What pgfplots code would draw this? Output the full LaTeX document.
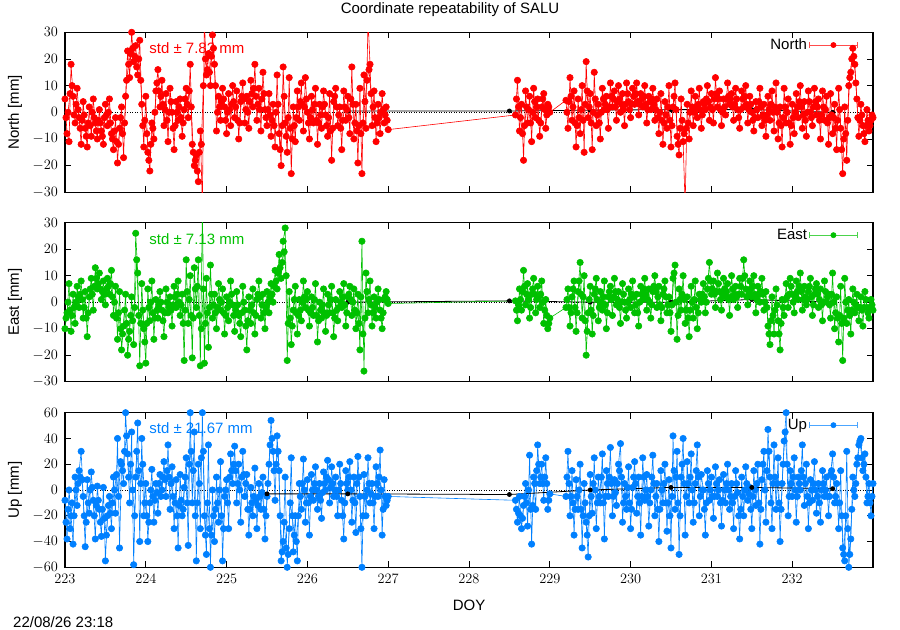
\documentclass[border=0pt]{standalone}
\usepackage{fontspec}
\setmainfont{Liberation Sans}
\usepackage{pgfplots}
\pgfplotsset{compat=1.18}
\definecolor{gpred}{RGB}{255,0,0}
\definecolor{gpgreen}{RGB}{0,192,0}
\definecolor{gpblue}{RGB}{0,128,255}

% each component: epochs on the quarter-hour grid (a) and the ones between (b)
\pgfplotstableread{
x y
223.000 5
223.025 -8
223.050 -11
223.075 18
223.100 6
223.125 -4
223.150 9
223.175 -2
223.200 -12
223.225 4
223.250 -6
223.275 -13
223.300 2
223.325 -9
223.350 5
223.375 -4
223.400 -10
223.425 1
223.450 -7
223.475 -12
223.500 3
223.525 -5
223.550 5
223.575 -8
223.600 -14
223.625 -2
223.650 -19
223.675 -6
223.700 2
223.725 -17
223.750 6
223.775 23
223.800 13
223.825 30
223.850 19
223.875 25
223.900 14
223.925 27
223.950 3
223.975 -13
224.000 6
224.025 -15
224.050 -22
224.075 -4
224.100 -10
224.125 8
224.150 16
224.175 2
224.200 12
224.225 -5
224.250 7
224.275 -11
224.300 9
224.325 0
224.350 -14
224.375 4
224.400 -3
224.425 5
224.450 -9
224.475 1
224.500 9
224.525 -2
224.550 18
224.575 -12
224.600 -20
224.625 -16
224.650 -26
224.675 -7
224.700 -35
224.725 35
224.750 14
224.775 22
224.800 10
224.825 29
224.850 18
224.875 -7
224.900 6
224.925 -3
224.950 9
224.975 2
225.000 -8
225.025 7
225.050 -5
225.075 10
225.100 -2
225.125 8
225.150 -10
225.175 4
225.200 11
225.225 -4
225.250 6
225.275 -6
225.300 12
225.325 2
225.350 18
225.375 -3
225.400 9
225.425 -7
225.450 15
225.475 1
225.500 -5
225.525 7
225.550 -9
225.575 3
225.600 -13
225.625 14
225.650 -8
225.675 -20
225.700 17
225.725 -4
225.750 -15
225.775 13
225.800 -23
225.825 2
225.850 -11
225.875 8
225.900 -3
225.925 11
225.950 -7
225.975 13
226.000 0
226.025 -10
226.050 6
226.075 -4
226.100 9
226.125 -12
226.150 3
226.175 -6
226.200 8
226.225 -1
226.250 -9
226.275 7
226.300 -18
226.325 4
226.350 9
226.375 -5
226.400 2
226.425 -14
226.450 8
226.475 -3
226.500 6
226.525 -8
226.550 17
226.575 -10
226.600 3
226.625 -19
226.650 9
226.675 -23
226.700 14
226.725 -6
226.750 35
226.775 18
226.800 -5
226.825 8
226.850 -11
226.875 3
226.900 -8
226.925 7
226.950 -4
226.975 2
227.000 -6.5
228.575 -1
228.600 12
228.625 -7
228.650 3
228.675 -18
228.700 8
228.725 -4
228.750 6
228.775 -11
228.800 9
228.825 -2
228.850 5
228.875 -9
228.900 2
228.925 7
228.950 -6
228.975 3
229.000 0
229.200 4.5
229.225 -6
229.250 13
229.275 -3
229.300 8
229.325 -13
229.350 5
229.375 -8
229.400 10
229.425 -15
229.450 19
229.475 -2
229.500 7
229.525 -14
229.550 15
229.575 -5
229.600 3
229.625 -10
229.650 9
229.675 1
229.700 6
229.725 -6
229.750 11
229.775 2
229.800 8
229.825 -3
229.850 10
229.875 0
229.900 7
229.925 -5
229.950 11
229.975 4
230.000 -2
230.025 9
230.050 3
230.075 11
230.100 -1
230.125 7
230.150 2
230.175 10
230.200 -4
230.225 6
230.250 1
230.275 9
230.300 -3
230.325 5
230.350 -8
230.375 7
230.400 -12
230.425 4
230.450 -6
230.475 10
230.500 -13
230.525 2
230.550 11
230.575 -9
230.600 -16
230.625 5
230.650 -11
230.675 -35
230.700 3
230.725 -10
230.750 8
230.775 -5
230.800 6
230.825 -2
230.850 9
230.875 -6
230.900 4
230.925 1
230.950 10
230.975 -3
231.000 7
231.025 -4
231.050 13
231.075 2
231.100 8
231.125 -5
231.150 5
231.175 -1
231.200 11
231.225 3
231.250 7
231.275 -3
231.300 9
231.325 1
231.350 -6
231.375 8
231.400 2
231.425 10
231.450 -4
231.475 6
231.500 0
231.525 -7
231.550 4
231.575 -2
231.600 9
231.625 -5
231.650 3
231.675 -9
231.700 6
231.725 -3
231.750 8
231.775 -7
231.800 11
231.825 -10
231.850 2
231.875 -13
231.900 9
231.925 -4
231.950 5
231.975 -12
232.000 3
232.025 -8
232.050 7
232.075 -2
232.100 10
232.125 -6
232.150 4
232.175 -9
232.200 8
232.225 0
232.250 -5
232.275 9
232.300 -1
232.325 5
232.350 -10
232.375 8
232.400 -3
232.425 6
232.450 -12
232.475 7
232.500 -8
232.525 3
232.550 -14
232.575 9
232.600 -6
232.625 -23
232.650 2
232.675 -18
232.700 10
232.725 15
232.750 24
232.775 18
232.800 5
232.825 -9
232.850 3
232.875 -5
232.900 -11
232.925 1
232.950 -7
232.975 -3
233.000 -2
}\northa

\pgfplotstableread{
x y
223.0125 -2
223.0375 0
223.0625 7
223.0875 10
223.1125 -1
223.1375 3
223.1625 1
223.1875 -6
223.2125 -3
223.2375 -1
223.2625 -9
223.2875 -4
223.3125 -5
223.3375 0
223.3625 -2
223.3875 -7
223.4125 -3
223.4375 -4
223.4625 -9
223.4875 -2
223.5125 -1
223.5375 0
223.5625 -4
223.5875 -10
223.6125 -7
223.6375 -11
223.6625 -12
223.6875 -2
223.7125 -8
223.7375 -4
223.7625 12
223.7875 18
223.8125 22
223.8375 24
223.8625 21
223.8875 17
223.9125 20
223.9375 12
223.9625 -5
223.9875 -3
224.0125 -8
224.0375 -18
224.0625 -12
224.0875 -6
224.1125 0
224.1375 11
224.1625 8
224.1875 6
224.2125 3
224.2375 1
224.2625 -3
224.2875 0
224.3125 4
224.3375 -6
224.3625 -5
224.3875 0
224.4125 2
224.4375 -2
224.4625 -4
224.4875 5
224.5125 3
224.5375 8
224.5625 2
224.5875 -15
224.6125 -18
224.6375 -22
224.6625 -15
224.6875 -12
224.7125 10
224.7375 20
224.7625 16
224.7875 15
224.8125 21
224.8375 24
224.8625 10
224.8875 0
224.9125 2
224.9375 4
224.9625 5
224.9875 -3
225.0125 0
225.0375 1
225.0625 3
225.0875 4
225.1125 2
225.1375 -3
225.1625 -4
225.1875 6
225.2125 5
225.2375 1
225.2625 0
225.2875 4
225.3125 7
225.3375 9
225.3625 6
225.3875 3
225.4125 1
225.4375 5
225.4625 7
225.4875 -2
225.5125 1
225.5375 -1
225.5625 -3
225.5875 -5
225.6125 0
225.6375 3
225.6625 -14
225.6875 -5
225.7125 6
225.7375 -9
225.7625 -2
225.7875 -6
225.8125 -10
225.8375 -5
225.8625 -2
225.8875 2
225.9125 4
225.9375 3
225.9625 2
225.9875 5
226.0125 -4
226.0375 -2
226.0625 1
226.0875 3
226.1125 -3
226.1375 -4
226.1625 -1
226.1875 2
226.2125 3
226.2375 -5
226.2625 -2
226.2875 -7
226.3125 -6
226.3375 6
226.3625 2
226.3875 -1
226.4125 -6
226.4375 -3
226.4625 2
226.4875 1
226.5125 -2
226.5375 5
226.5625 3
226.5875 -4
226.6125 -7
226.6375 -5
226.6625 -8
226.6875 -4
226.7125 4
226.7375 12
226.7625 16
226.7875 7
226.8125 2
226.8375 -2
226.8625 -4
226.8875 -2
226.9125 0
226.9375 1
226.9625 -1
226.9875 -3
228.0000 nan
228.5875 5
228.6125 2
228.6375 -2
228.6625 -8
228.6875 -5
228.7125 2
228.7375 1
228.7625 -4
228.7875 0
228.8125 4
228.8375 2
228.8625 -3
228.8875 -4
228.9125 5
228.9375 1
228.9625 -1
228.9875 2
229.1000 nan
229.2125 0
229.2375 4
229.2625 6
229.2875 2
229.3125 -4
229.3375 -5
229.3625 -2
229.3875 1
229.4125 -3
229.4375 3
229.4625 8
229.4875 2
229.5125 -4
229.5375 0
229.5625 5
229.5875 -1
229.6125 -4
229.6375 0
229.6625 5
229.6875 3
229.7125 1
229.7375 2
229.7625 6
229.7875 5
229.8125 2
229.8375 4
229.8625 5
229.8875 3
229.9125 1
229.9375 3
229.9625 7
229.9875 1
230.0125 3
230.0375 6
230.0625 7
230.0875 4
230.1125 3
230.1375 5
230.1625 6
230.1875 3
230.2125 1
230.2375 4
230.2625 5
230.2875 3
230.3125 1
230.3375 -2
230.3625 0
230.3875 -3
230.4125 -4
230.4375 -1
230.4625 2
230.4875 -3
230.5125 -5
230.5375 6
230.5625 1
230.5875 -12
230.6125 -6
230.6375 -3
230.6625 -8
230.6875 -6
230.7125 -4
230.7375 0
230.7625 2
230.7875 0
230.8125 2
230.8375 3
230.8625 1
230.8875 -1
230.9125 3
230.9375 5
230.9625 4
230.9875 2
231.0125 1
231.0375 5
231.0625 7
231.0875 5
231.1125 1
231.1375 0
231.1625 2
231.1875 5
231.2125 6
231.2375 5
231.2625 2
231.2875 3
231.3125 5
231.3375 -2
231.3625 1
231.3875 5
231.4125 6
231.4375 3
231.4625 1
231.4875 3
231.5125 -3
231.5375 -2
231.5625 1
231.5875 4
231.6125 2
231.6375 -1
231.6625 -3
231.6875 -1
231.7125 1
231.7375 3
231.7625 0
231.7875 2
231.8125 0
231.8375 -4
231.8625 -5
231.8875 -2
231.9125 2
231.9375 0
231.9625 -4
231.9875 -5
232.0125 -2
232.0375 0
232.0625 2
232.0875 4
232.1125 2
232.1375 -1
232.1625 -3
232.1875 0
232.2125 4
232.2375 -2
232.2625 2
232.2875 4
232.3125 2
232.3375 -3
232.3625 -1
232.3875 2
232.4125 1
232.4375 -4
232.4625 -2
232.4875 -1
232.5125 -2
232.5375 -6
232.5625 -3
232.5875 1
232.6125 -14
232.6375 -10
232.6625 -8
232.6875 -3
232.7125 13
232.7375 20
232.7625 21
232.7875 11
232.8125 -2
232.8375 -3
232.8625 -1
232.8875 -8
232.9125 -5
232.9375 -3
232.9625 -5
232.9875 -1
}\northb

\pgfplotstableread{
x y
223.000 -10
223.025 -4
223.050 7
223.075 -11
223.100 3
223.125 -8
223.150 6
223.175 -2
223.200 8
223.225 -6
223.250 4
223.275 -13
223.300 2
223.325 9
223.350 -3
223.375 13
223.400 5
223.425 11
223.450 1
223.475 8
223.500 -1
223.525 9
223.550 3
223.575 12
223.600 -5
223.625 6
223.650 -14
223.675 4
223.700 -18
223.725 -9
223.750 3
223.775 -20
223.800 -11
223.825 2
223.850 -16
223.875 26
223.900 11
223.925 -24
223.950 7
223.975 -10
224.000 -23
224.025 5
224.050 -7
224.075 8
224.100 -14
224.125 1
224.150 -6
224.175 4
224.200 -3
224.225 -13
224.250 5
224.275 -4
224.300 2
224.325 -9
224.350 6
224.375 -2
224.400 8
224.425 -5
224.450 3
224.475 -22
224.500 16
224.525 -8
224.550 10
224.575 -21
224.600 13
224.625 -2
224.650 16
224.675 -24
224.700 35
224.725 -23
224.750 9
224.775 -17
224.800 14
224.825 -6
224.850 3
224.875 -10
224.900 7
224.925 -3
224.950 5
224.975 -12
225.000 2
225.025 -7
225.050 8
225.075 -1
225.100 -11
225.125 4
225.150 -5
225.175 -13
225.200 6
225.225 -3
225.250 -18
225.275 2
225.300 -8
225.325 5
225.350 -12
225.375 1
225.400 8
225.425 -6
225.450 3
225.475 -10
225.500 4
225.525 -4
225.550 7
225.575 0
225.600 12
225.625 5
225.650 18
225.675 9
225.700 23
225.725 28
225.750 -22
225.775 4
225.800 -16
225.825 -3
225.850 6
225.875 -12
225.900 1
225.925 -7
225.950 8
225.975 -2
226.000 4
226.025 -9
226.050 2
226.075 -5
226.100 7
226.125 -15
226.150 0
226.175 -6
226.200 5
226.225 -11
226.250 3
226.275 -4
226.300 6
226.325 -13
226.350 1
226.375 -7
226.400 4
226.425 -2
226.450 7
226.475 -9
226.500 2
226.525 6
226.550 -5
226.575 5
226.600 -10
226.625 3
226.650 -18
226.675 23
226.700 -26
226.725 11
226.750 -4
226.775 8
226.800 -9
226.825 2
226.850 -6
226.875 5
226.900 -3
226.925 -10
226.950 1
226.975 4
227.000 -0.5
228.575 0.5
228.600 -7
228.625 5
228.650 -3
228.675 12
228.700 -1
228.725 7
228.750 -6
228.775 3
228.800 9
228.825 -4
228.850 6
228.875 -2
228.900 8
228.925 -8
228.950 1
228.975 -10
229.000 -6
229.200 -2
229.225 5
229.250 -9
229.275 2
229.300 8
229.325 -11
229.350 4
229.375 15
229.400 -6
229.425 10
229.450 -20
229.475 -4
229.500 6
229.525 -12
229.550 3
229.575 9
229.600 -7
229.625 4
229.650 -3
229.675 8
229.700 -10
229.725 2
229.750 6
229.775 -5
229.800 9
229.825 -1
229.850 4
229.875 -8
229.900 7
229.925 0
229.950 -6
229.975 5
230.000 -2
230.025 8
230.050 -4
230.075 3
230.100 -9
230.125 6
230.150 1
230.175 9
230.200 -3
230.225 5
230.250 -6
230.275 4
230.300 10
230.325 -2
230.350 6
230.375 -7
230.400 3
230.425 8
230.450 -4
230.475 2
230.500 -11
230.525 9
230.550 14
230.575 -14
230.600 5
230.625 -3
230.650 10
230.675 -8
230.700 2
230.725 -13
230.750 6
230.775 -6
230.800 8
230.825 -10
230.850 3
230.875 0
230.900 7
230.925 -4
230.950 5
230.975 15
231.000 3
231.025 8
231.050 -2
231.075 11
231.100 4
231.125 -3
231.150 9
231.175 2
231.200 7
231.225 -5
231.250 10
231.275 1
231.300 6
231.325 -2
231.350 9
231.375 3
231.400 16
231.425 5
231.450 -1
231.475 8
231.500 2
231.525 10
231.550 -4
231.575 6
231.600 0
231.625 9
231.650 -3
231.675 4
231.700 -9
231.725 -16
231.750 2
231.775 -12
231.800 5
231.825 -7
231.850 -18
231.875 1
231.900 -5
231.925 7
231.950 -2
231.975 9
232.000 3
232.025 -4
232.050 8
232.075 1
232.100 11
232.125 -3
232.150 6
232.175 -1
232.200 4
232.225 9
232.250 -5
232.275 3
232.300 7
232.325 -2
232.350 5
232.375 -7
232.400 8
232.425 0
232.450 3
232.475 -6
232.500 11
232.525 -10
232.550 2
232.575 -15
232.600 6
232.625 -22
232.650 9
232.675 -8
232.700 1
232.725 -12
232.750 5
232.775 -4
232.800 3
232.825 -7
232.850 2
232.875 -9
232.900 4
232.925 -2
232.950 -6
232.975 1
233.000 -3
}\easta

\pgfplotstableread{
x y
223.0125 -6
223.0375 0
223.0625 -3
223.0875 -5
223.1125 -2
223.1375 0
223.1625 2
223.1875 3
223.2125 1
223.2375 -2
223.2625 -6
223.2875 -4
223.3125 5
223.3375 3
223.3625 6
223.3875 9
223.4125 7
223.4375 5
223.4625 4
223.4875 3
223.5125 5
223.5375 6
223.5625 7
223.5875 2
223.6125 0
223.6375 -6
223.6625 -4
223.6875 -10
223.7125 -12
223.7375 -3
223.7625 -8
223.7875 -14
223.8125 -5
223.8375 -7
223.8625 -2
223.8875 16
223.9125 -5
223.9375 -8
223.9625 -3
223.9875 -15
224.0125 -8
224.0375 -2
224.0625 0
224.0875 -4
224.1125 -6
224.1375 -3
224.1625 -1
224.1875 0
224.2125 -7
224.2375 -4
224.2625 0
224.2875 -2
224.3125 -3
224.3375 -1
224.3625 2
224.3875 3
224.4125 0
224.4375 -1
224.4625 -8
224.4875 -3
224.5125 4
224.5375 1
224.5625 -5
224.5875 -6
224.6125 5
224.6375 6
224.6625 -5
224.6875 -10
224.7125 5
224.7375 -8
224.7625 -4
224.7875 -2
224.8125 3
224.8375 -1
224.8625 -4
224.8875 -2
224.9125 1
224.9375 0
224.9625 -4
224.9875 -5
225.0125 -2
225.0375 0
225.0625 3
225.0875 -5
225.1125 -3
225.1375 -1
225.1625 -8
225.1875 -4
225.2125 0
225.2375 -9
225.2625 -7
225.2875 -3
225.3125 -1
225.3375 -4
225.3625 -5
225.3875 3
225.4125 2
225.4375 -1
225.4625 -4
225.4875 -2
225.5125 0
225.5375 2
225.5625 3
225.5875 6
225.6125 8
225.6375 11
225.6625 13
225.6875 15
225.7125 19
225.7375 10
225.7625 -8
225.7875 -6
225.8125 -9
225.8375 1
225.8625 -4
225.8875 -5
225.9125 -3
225.9375 0
225.9625 2
225.9875 1
226.0125 -3
226.0375 -4
226.0625 -2
226.0875 1
226.1125 -5
226.1375 -7
226.1625 -3
226.1875 -1
226.2125 -4
226.2375 -5
226.2625 -1
226.2875 1
226.3125 -4
226.3375 -6
226.3625 -3
226.3875 -2
226.4125 0
226.4375 2
226.4625 -1
226.4875 -4
226.5125 3
226.5375 1
226.5625 0
226.5875 -3
226.6125 -4
226.6375 -8
226.6625 2
226.6875 -12
226.7125 -6
226.7375 4
226.7625 1
226.7875 -1
226.8125 -4
226.8375 -2
226.8625 0
226.8875 1
226.9125 -6
226.9375 -4
226.9625 2
226.9875 1
228.0000 nan
228.5875 -3
228.6125 -1
228.6375 1
228.6625 4
228.6875 6
228.7125 3
228.7375 1
228.7625 -2
228.7875 5
228.8125 3
228.8375 1
228.8625 2
228.8875 3
228.9125 0
228.9375 -3
228.9625 -5
228.9875 -8
229.1000 nan
229.2125 1
229.2375 -2
229.2625 -4
229.2875 5
229.3125 -2
229.3375 -4
229.3625 8
229.3875 3
229.4125 2
229.4375 -7
229.4625 -11
229.4875 1
229.5125 -3
229.5375 -5
229.5625 5
229.5875 1
229.6125 -2
229.6375 0
229.6625 2
229.6875 -1
229.7125 -4
229.7375 4
229.7625 1
229.7875 2
229.8125 4
229.8375 1
229.8625 -2
229.8875 0
229.9125 3
229.9375 -3
229.9625 0
229.9875 1
230.0125 3
230.0375 2
230.0625 -1
230.0875 -4
230.1125 0
230.1375 3
230.1625 5
230.1875 3
230.2125 1
230.2375 0
230.2625 -1
230.2875 6
230.3125 4
230.3375 2
230.3625 -1
230.3875 -2
230.4125 5
230.4375 2
230.4625 -1
230.4875 -4
230.5125 -1
230.5375 11
230.5625 0
230.5875 -5
230.6125 1
230.6375 3
230.6625 1
230.6875 -3
230.7125 -6
230.7375 -3
230.7625 0
230.7875 1
230.8125 -2
230.8375 -4
230.8625 1
230.8875 3
230.9125 2
230.9375 0
230.9625 9
230.9875 8
231.0125 5
231.0375 3
231.0625 4
231.0875 7
231.1125 1
231.1375 3
231.1625 5
231.1875 4
231.2125 1
231.2375 2
231.2625 5
231.2875 3
231.3125 2
231.3375 3
231.3625 6
231.3875 9
231.4125 10
231.4375 2
231.4625 3
231.4875 5
231.5125 6
231.5375 3
231.5625 1
231.5875 3
231.6125 4
231.6375 3
231.6625 0
231.6875 -2
231.7125 -12
231.7375 -7
231.7625 -5
231.7875 -3
231.8125 -1
231.8375 -12
231.8625 -8
231.8875 -2
231.9125 1
231.9375 2
231.9625 3
231.9875 6
232.0125 0
232.0375 2
232.0625 4
232.0875 6
232.1125 4
232.1375 1
232.1625 2
232.1875 1
232.2125 6
232.2375 2
232.2625 -1
232.2875 5
232.3125 3
232.3375 1
232.3625 -1
232.3875 0
232.4125 4
232.4375 2
232.4625 -1
232.4875 3
232.5125 0
232.5375 -4
232.5625 -6
232.5875 -5
232.6125 -8
232.6375 -6
232.6625 0
232.6875 -3
232.7125 -5
232.7375 -3
232.7625 0
232.7875 -1
232.8125 -2
232.8375 -2
232.8625 -3
232.8875 -2
232.9125 1
232.9375 -4
232.9625 -2
232.9875 -1
}\eastb

\pgfplotstableread{
x y
223.000 -8
223.025 -38
223.050 0
223.075 -20
223.100 -42
223.125 10
223.150 -12
223.175 15
223.200 30
223.225 -5
223.250 -44
223.275 8
223.300 -18
223.325 14
223.350 -8
223.375 -38
223.400 3
223.425 -15
223.450 -36
223.475 2
223.500 -55
223.525 -20
223.550 -5
223.575 -30
223.600 10
223.625 -18
223.650 40
223.675 -45
223.700 20
223.725 5
223.750 60
223.775 28
223.800 -10
223.825 45
223.850 -58
223.875 10
223.900 52
223.925 -40
223.950 40
223.975 -20
224.000 5
224.025 -40
224.050 -10
224.075 16
224.100 -25
224.125 5
224.150 -18
224.175 12
224.200 0
224.225 22
224.250 -5
224.275 35
224.300 -15
224.325 18
224.350 -30
224.375 8
224.400 -45
224.425 12
224.450 -20
224.475 2
224.500 25
224.525 -43
224.550 60
224.575 -10
224.600 45
224.625 -55
224.650 20
224.675 -30
224.700 60
224.725 -20
224.750 -50
224.775 35
224.800 -60
224.825 0
224.850 -40
224.875 10
224.900 -25
224.925 22
224.950 -55
224.975 -5
225.000 8
225.025 -30
225.050 28
225.075 5
225.100 34
225.125 -10
225.150 20
225.175 -25
225.200 30
225.225 -5
225.250 12
225.275 -35
225.300 2
225.325 -20
225.350 17
225.375 -30
225.400 5
225.425 -15
225.450 10
225.475 -38
225.500 -5
225.525 20
225.550 54
225.575 30
225.600 -8
225.625 42
225.650 15
225.675 -55
225.700 -40
225.725 10
225.750 -60
225.775 -30
225.800 25
225.825 -48
225.850 -20
225.875 -55
225.900 5
225.925 -15
225.950 24
225.975 -25
226.000 8
226.025 -35
226.050 12
226.075 -8
226.100 18
226.125 -15
226.150 5
226.175 -22
226.200 14
226.225 0
226.250 23
226.275 -10
226.300 18
226.325 -5
226.350 10
226.375 -20
226.400 20
226.425 -8
226.450 -38
226.475 15
226.500 0
226.525 22
226.550 -25
226.575 10
226.600 -33
226.625 26
226.650 -5
226.675 -60
226.700 12
226.725 -20
226.750 25
226.775 -10
226.800 5
226.825 -30
226.850 18
226.875 -5
226.900 31
226.925 -35
226.950 8
226.975 -12
227.000 -5
228.575 -8
228.600 -25
228.625 -5
228.650 -30
228.675 -12
228.700 5
228.725 -28
228.750 27
228.775 -42
228.800 10
228.825 -15
228.850 35
228.875 5
228.900 20
228.925 -8
228.950 25
228.975 -15
229.000 -3
229.200 -5
229.225 30
229.250 -20
229.275 15
229.300 -35
229.325 8
229.350 -15
229.375 20
229.400 -45
229.425 5
229.450 -25
229.475 -52
229.500 12
229.525 -18
229.550 25
229.575 -30
229.600 10
229.625 -10
229.650 28
229.675 -38
229.700 15
229.725 -5
229.750 33
229.775 -20
229.800 8
229.825 -12
229.850 20
229.875 36
229.900 -25
229.925 5
229.950 -15
229.975 18
230.000 -30
230.025 2
230.050 22
230.075 -18
230.100 10
230.125 -35
230.150 25
230.175 -8
230.200 12
230.225 -28
230.250 0
230.275 27
230.300 -20
230.325 5
230.350 -40
230.375 15
230.400 -10
230.425 20
230.450 -32
230.475 8
230.500 -45
230.525 42
230.550 -15
230.575 30
230.600 -50
230.625 10
230.650 40
230.675 -35
230.700 22
230.725 -10
230.750 28
230.775 -25
230.800 5
230.825 35
230.850 -20
230.875 12
230.900 0
230.925 -35
230.950 15
230.975 -8
231.000 10
231.025 -22
231.050 18
231.075 -5
231.100 8
231.125 -28
231.150 12
231.175 -10
231.200 20
231.225 -15
231.250 5
231.275 -30
231.300 15
231.325 -2
231.350 -38
231.375 10
231.400 -20
231.425 18
231.450 -8
231.475 2
231.500 -30
231.525 15
231.550 -12
231.575 20
231.600 -42
231.625 8
231.650 30
231.675 -25
231.700 47
231.725 10
231.750 -30
231.775 35
231.800 -15
231.825 25
231.850 -40
231.875 5
231.900 38
231.925 60
231.950 -20
231.975 15
232.000 -5
232.025 25
232.050 -25
232.075 10
232.100 0
232.125 35
232.150 -12
232.175 20
232.200 -30
232.225 8
232.250 -8
232.275 22
232.300 -18
232.325 5
232.350 -25
232.375 15
232.400 -5
232.425 10
232.450 -20
232.475 12
232.500 28
232.525 -10
232.550 5
232.575 -30
232.600 15
232.625 -45
232.650 -55
232.675 30
232.700 -60
232.725 -38
232.750 10
232.775 -5
232.800 20
232.825 35
232.850 40
232.875 15
232.900 28
232.925 -10
232.950 5
232.975 -20
233.000 5
}\upa

\pgfplotstableread{
x y
223.0125 -25
223.0375 -15
223.0625 -30
223.0875 -10
223.1125 -20
223.1375 0
223.1625 5
223.1875 10
223.2125 8
223.2375 -20
223.2625 -25
223.2875 -10
223.3125 0
223.3375 2
223.3625 -20
223.3875 -12
223.4125 -8
223.4375 -25
223.4625 -15
223.4875 -22
223.5125 -35
223.5375 -12
223.5625 -18
223.5875 -10
223.6125 0
223.6375 12
223.6625 -5
223.6875 22
223.7125 15
223.7375 30
223.7625 42
223.7875 10
223.8125 20
223.8375 0
223.8625 -20
223.8875 30
223.9125 15
223.9375 5
223.9625 20
223.9875 -10
224.0125 -20
224.0375 -25
224.0625 0
224.0875 -5
224.1125 -8
224.1375 -2
224.1625 5
224.1875 -5
224.2125 10
224.2375 8
224.2625 15
224.2875 10
224.3125 5
224.3375 -5
224.3625 -10
224.3875 -20
224.4125 -12
224.4375 -8
224.4625 -15
224.4875 10
224.5125 -10
224.5375 20
224.5625 30
224.5875 15
224.6125 -20
224.6375 -10
224.6625 5
224.6875 25
224.7125 30
224.7375 -35
224.7625 -10
224.7875 -30
224.8125 -35
224.8375 -20
224.8625 -15
224.8875 -10
224.9125 0
224.9375 -20
224.9625 -30
224.9875 0
225.0125 -10
225.0375 10
225.0625 15
225.0875 20
225.1125 15
225.1375 5
225.1625 0
225.1875 10
225.2125 12
225.2375 5
225.2625 -15
225.2875 -15
225.3125 -10
225.3375 -5
225.3625 -8
225.3875 -12
225.4125 -5
225.4375 -2
225.4625 -15
225.4875 -20
225.5125 5
225.5375 35
225.5625 40
225.5875 15
225.6125 20
225.6375 30
225.6625 -20
225.6875 -48
225.7125 -25
225.7375 -45
225.7625 -50
225.7875 -10
225.8125 -20
225.8375 -35
225.8625 -40
225.8875 -20
225.9125 -5
225.9375 5
225.9625 0
225.9875 -10
226.0125 -10
226.0375 -5
226.0625 0
226.0875 5
226.1125 0
226.1375 -5
226.1625 -8
226.1875 -2
226.2125 5
226.2375 10
226.2625 8
226.2875 2
226.3125 5
226.3375 0
226.3625 -5
226.3875 0
226.4125 5
226.4375 -20
226.4625 -10
226.4875 5
226.5125 10
226.5375 0
226.5625 -8
226.5875 -10
226.6125 5
226.6375 10
226.6625 -30
226.6875 -20
226.7125 -5
226.7375 0
226.7625 5
226.7875 -3
226.8125 -10
226.8375 -5
226.8625 5
226.8875 10
226.9125 0
226.9375 -15
226.9625 -5
226.9875 -8
228.0000 nan
228.5875 -15
228.6125 -18
228.6375 -20
228.6625 -22
228.6875 -5
228.7125 -10
228.7375 0
228.7625 -15
228.7875 -12
228.8125 5
228.8375 15
228.8625 20
228.8875 10
228.9125 5
228.9375 10
228.9625 5
228.9875 -8
229.1000 nan
229.2125 10
229.2375 5
229.2625 -5
229.2875 -10
229.3125 -15
229.3375 -5
229.3625 0
229.3875 -15
229.4125 -20
229.4375 -10
229.4625 -35
229.4875 -20
229.5125 -5
229.5375 5
229.5625 0
229.5875 -10
229.6125 -5
229.6375 10
229.6625 -10
229.6875 -5
229.7125 5
229.7375 10
229.7625 5
229.7875 -5
229.8125 -2
229.8375 5
229.8625 15
229.8875 10
229.9125 -10
229.9375 -5
229.9625 2
229.9875 -10
230.0125 -15
230.0375 10
230.0625 5
230.0875 -5
230.1125 -10
230.1375 -5
230.1625 10
230.1875 0
230.2125 -5
230.2375 -10
230.2625 10
230.2875 5
230.3125 -5
230.3375 -15
230.3625 -15
230.3875 0
230.4125 5
230.4375 -10
230.4625 -10
230.4875 -20
230.5125 -5
230.5375 15
230.5625 10
230.5875 -10
230.6125 -20
230.6375 20
230.6625 5
230.6875 -5
230.7125 5
230.7375 10
230.7625 0
230.7875 -10
230.8125 15
230.8375 10
230.8625 -5
230.8875 0
230.9125 -15
230.9375 -10
230.9625 5
230.9875 0
231.0125 -5
231.0375 -5
231.0625 5
231.0875 0
231.1125 -10
231.1375 -8
231.1625 0
231.1875 5
231.2125 0
231.2375 -5
231.2625 -10
231.2875 -5
231.3125 5
231.3375 -20
231.3625 -15
231.3875 -5
231.4125 0
231.4375 5
231.4625 -3
231.4875 -15
231.5125 -5
231.5375 0
231.5625 5
231.5875 -10
231.6125 -15
231.6375 20
231.6625 0
231.6875 15
231.7125 30
231.7375 -10
231.7625 5
231.7875 10
231.8125 5
231.8375 -10
231.8625 -15
231.8875 20
231.9125 45
231.9375 20
231.9625 -5
231.9875 5
232.0125 10
232.0375 0
232.0625 -5
232.0875 5
232.1125 15
232.1375 10
232.1625 5
232.1875 -5
232.2125 -10
232.2375 0
232.2625 5
232.2875 0
232.3125 -5
232.3375 -10
232.3625 0
232.3875 5
232.4125 0
232.4375 -5
232.4625 -5
232.4875 15
232.5125 10
232.5375 -5
232.5625 -10
232.5875 -10
232.6125 -20
232.6375 -50
232.6625 -20
232.6875 -30
232.7125 -50
232.7375 -15
232.7625 0
232.7875 5
232.8125 25
232.8375 38
232.8625 25
232.8875 20
232.9125 10
232.9375 -5
232.9625 -10
232.9875 -5
}\upb

\begin{document}
\fontsize{15bp}{18bp}\selectfont
\begin{tikzpicture}
\path[use as bounding box] (0bp,0bp) rectangle (900bp,630bp);
\pgfplotsset{
  panel/.style={
    scale only axis, width=808bp, anchor=south west,
    xmin=223, xmax=233, xtick={223,224,...,232},
    axis line style={line width=1.1bp},
    tick style={line width=0.7bp, black},
    major tick length=6bp,
    tick label style={font=\fontsize{15bp}{18bp}\selectfont},
    x tick label style={yshift=-2bp},
    y tick label style={xshift=-2bp},
    label style={font=\fontsize{15bp}{18bp}\selectfont},
    y label style={at={(axis description cs:-0.0619,0.5)}, anchor=center},
    legend style={draw=none, fill=none, at={(axis description cs:1,1)},
      anchor=north east, xshift=-12bp, yshift=-2bp,
      font=\fontsize{15bp}{18bp}\selectfont},
    legend cell align=right, legend plot pos=right,
    legend image code/.code={
      \draw[##1, line width=0.8bp, opacity=0.7] (0bp,0bp) -- (48bp,0bp)
        (0bp,-3bp) -- (0bp,3bp) (48bp,-3bp) -- (48bp,3bp);
      \fill[##1] (24bp,0bp) circle (2.6bp);
    },
  },
  data/.style={#1, mark=*, mark size=3.2bp, line width=0.6bp,
    unbounded coords=jump},
  daily/.style={black, mark=*, mark size=2bp, line width=0.8bp, forget plot},
  zero/.style={black, dotted, line width=0.5bp, forget plot},
}

\begin{axis}[panel, at={(65bp,437.7bp)}, height=160bp,
  ymin=-30, ymax=30, ytick={-30,-20,...,30}, xticklabels={},
  ylabel={North [mm]}]
\addplot[zero] coordinates {(223,0) (233,0)};
\node[gpred, anchor=west] at (axis cs:223.98,24.1) {std ± 7.82 mm};
\addplot[daily] coordinates {(226.5,0.5) (228.5,0.5) (229.5,0.8) (230.5,1) (231.5,1) (232.5,0)};
\addplot[forget plot, data=gpred] table {\northb};
\addplot[data=gpred] table {\northa};
\addlegendentry{North}
\end{axis}

\begin{axis}[panel, at={(65bp,248.3bp)}, height=159bp,
  ymin=-30, ymax=30, ytick={-30,-20,...,30}, xticklabels={},
  ylabel={East [mm]}]
\addplot[zero] coordinates {(223,0) (233,0)};
\node[gpgreen, anchor=west] at (axis cs:223.98,23.8) {std ± 7.13 mm};
\addplot[daily] coordinates {(226.5,0) (228.5,0.5) (229.5,0) (230.5,0) (231.5,1) (232.5,0)};
\addplot[forget plot, data=gpgreen] table {\eastb};
\addplot[data=gpgreen] table {\easta};
\addlegendentry{East}
\end{axis}

\begin{axis}[panel, at={(65bp,62.7bp)}, height=154.6bp,
  ymin=-60, ymax=60, ytick={-60,-40,...,60},
  ylabel={Up [mm]}, xlabel={DOY},
  x label style={at={(axis description cs:0.5,-0.244)}, anchor=center}]
\addplot[zero] coordinates {(223,0) (233,0)};
\node[gpblue, anchor=west] at (axis cs:223.98,48.1) {std ± 21.67 mm};
\addplot[forget plot, data=gpblue] table {\upb};
\addplot[data=gpblue] table {\upa};
\addlegendentry{Up}
\addplot[daily] coordinates {(225.5,-3) (226.5,-3) (228.5,-3.5) (229.5,0) (230.5,2) (231.5,2) (232.5,1)};
\end{axis}

\node at (450bp,620bp) {Coordinate repeatability of SALU};
\node[anchor=west] at (8bp,8bp) {22/08/26 23:18};
\end{tikzpicture}
\end{document}
